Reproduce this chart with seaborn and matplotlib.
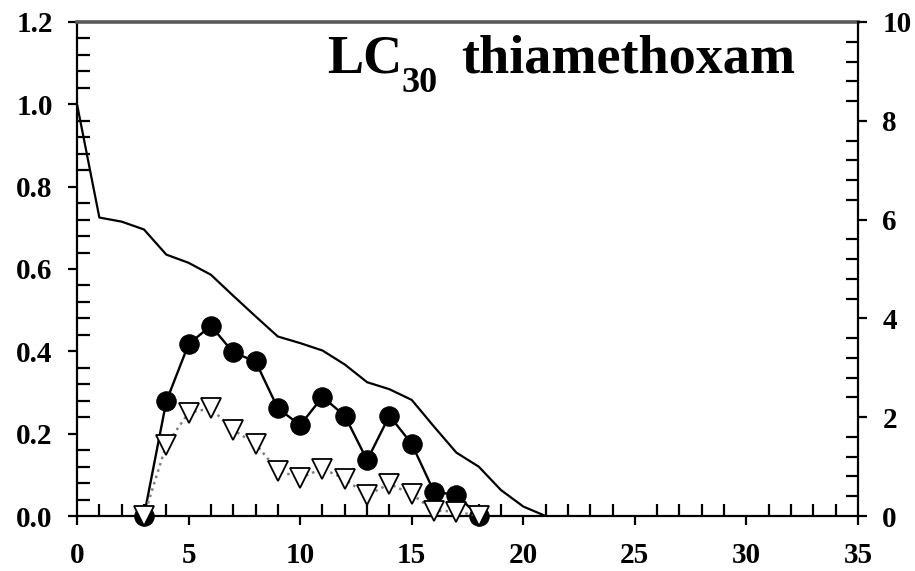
import matplotlib
matplotlib.use("Agg")
import matplotlib.pyplot as plt
import seaborn as sns
from matplotlib.ticker import MultipleLocator, FormatStrFormatter

# Age-specific survival (lx), left axis
age_lx = list(range(0, 22))
lx = [1.0, 0.725, 0.715, 0.696, 0.635, 0.615, 0.586, 0.535, 0.485, 0.436,
      0.42, 0.402, 0.368, 0.325, 0.308, 0.282, 0.217, 0.154, 0.12, 0.063,
      0.023, 0.0]

# Age-specific fecundity (mx) and net maternity (lxmx), right axis
age_f = list(range(3, 19))
mx = [0.0, 2.32, 3.48, 3.85, 3.31, 3.13, 2.18, 1.84, 2.41, 2.03, 1.13,
      2.03, 1.46, 0.49, 0.43, 0.0]
lxmx = [0.0, 1.44, 2.09, 2.18, 1.74, 1.46, 0.92, 0.77, 0.96, 0.75, 0.42,
        0.65, 0.44, 0.11, 0.09, 0.0]

title_main = "LC"
title_sub = "30"
title_rest = "thiamethoxam"

sns.set_style("white")
plt.rcParams["font.family"] = ["Liberation Serif", "DejaVu Serif"]
plt.rcParams["font.weight"] = "bold"
plt.rcParams["text.color"] = "black"
plt.rcParams["xtick.color"] = "black"
plt.rcParams["ytick.color"] = "black"
plt.rcParams["xtick.labelcolor"] = "black"
plt.rcParams["ytick.labelcolor"] = "black"

fig = plt.figure(figsize=(9.15, 5.71), dpi=100)
ax = fig.add_axes([0.0842, 0.0963, 0.8535, 0.8652])
ax2 = ax.twinx()

sns.lineplot(x=age_lx, y=lx, ax=ax, color="black", lw=1.6)
sns.lineplot(x=age_f, y=mx, ax=ax2, color="black", lw=1.7, marker="o",
             markersize=14, markerfacecolor="black", markeredgecolor="black",
             zorder=3, clip_on=False)
sns.lineplot(x=age_f, y=lxmx, ax=ax2, color="#808080", lw=1.8, ls=":",
             marker="v", markersize=15, markerfacecolor="white",
             markeredgecolor="black", markeredgewidth=1.3, zorder=4,
             clip_on=False)

ax.set_xlim(0, 35)
ax.set_ylim(0, 1.2)
ax2.set_ylim(0, 10)
ax.set_xlabel("")
ax.set_ylabel("")
ax2.set_ylabel("")

ax.xaxis.set_major_locator(MultipleLocator(5))
ax.xaxis.set_minor_locator(MultipleLocator(1))
ax.yaxis.set_major_locator(MultipleLocator(0.2))
ax.yaxis.set_minor_locator(MultipleLocator(0.04))
ax.yaxis.set_major_formatter(FormatStrFormatter("%.1f"))
ax2.yaxis.set_major_locator(MultipleLocator(2))
ax2.yaxis.set_minor_locator(MultipleLocator(0.4))

for a in (ax, ax2):
    a.tick_params(which="major", direction="out", length=6.5, width=1.6,
                  labelsize=21, pad=11, color="black", labelcolor="black")
    a.tick_params(which="minor", direction="in", length=9, width=1.6,
                  color="black")
ax.tick_params(which="both", right=False, top=False, left=True, bottom=True)
ax.tick_params(axis="x", pad=12)
ax2.tick_params(which="both", left=False, right=True)

for lab in ax.get_xticklabels() + ax.get_yticklabels() + ax2.get_yticklabels():
    lab.set_fontweight("bold")

ax.spines["right"].set_visible(False)
ax.spines["top"].set_color("#5a5a5a")
ax.spines["top"].set_linewidth(2.6)
for s in ("left", "bottom"):
    ax.spines[s].set_color("black")
    ax.spines[s].set_linewidth(1.6)
for s in ("left", "bottom", "top"):
    ax2.spines[s].set_visible(False)
ax2.spines["right"].set_color("black")
ax2.spines["right"].set_linewidth(1.6)

# Title with a lowered subscript, drawn piece by piece
ax.text(0.320, 0.897, title_main, transform=ax.transAxes, fontsize=39,
        fontweight="bold", va="baseline", ha="left", color="black")
ax.text(0.416, 0.858, title_sub, transform=ax.transAxes, fontsize=26,
        fontweight="bold", va="baseline", ha="left", color="black")
ax.text(0.492, 0.897, title_rest, transform=ax.transAxes, fontsize=39,
        fontweight="bold", va="baseline", ha="left", color="black")

fig.savefig("out.png", dpi=100)
